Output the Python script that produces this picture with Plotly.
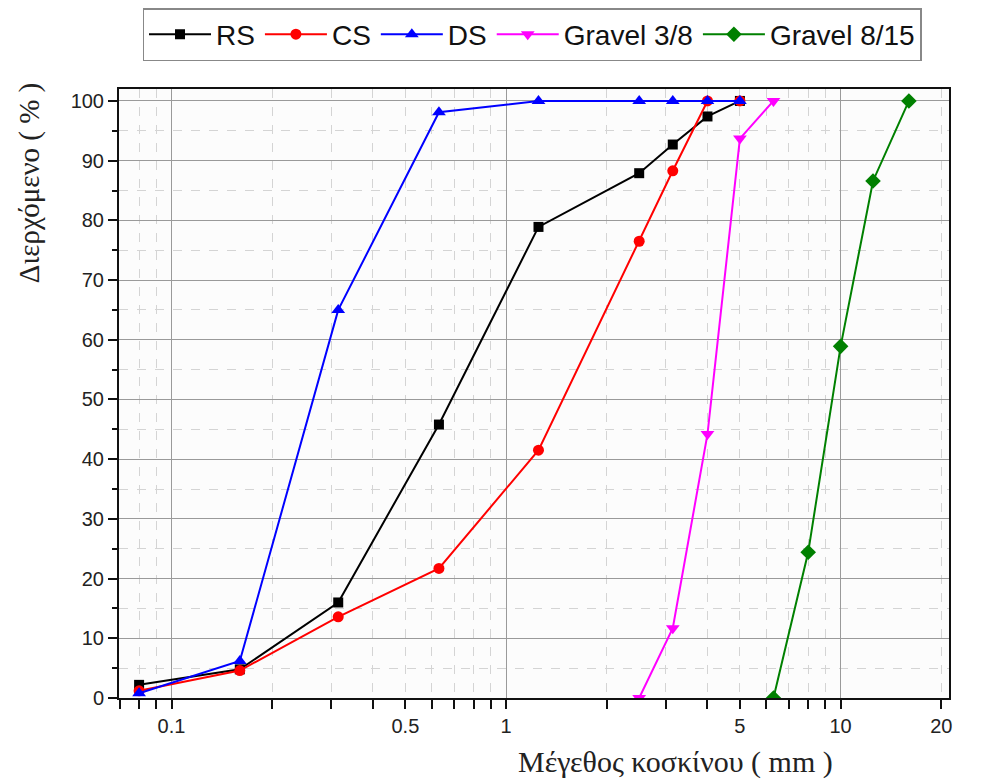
import plotly.graph_objects as go

# Sieve sizes (mm)
sizes_fine = [0.08, 0.16, 0.315, 0.63, 1.25, 2.5, 3.15, 4, 5]
rs = [2.2, 4.8, 16.0, 45.8, 78.9, 87.9, 92.7, 97.4, 100]
cs = [1.2, 4.6, 13.6, 21.7, 41.5, 76.5, 88.3, 100, 100]
ds = [0.8, 6.2, 65.0, 98.1, 100, 100, 100, 100, 100]

sizes_g38 = [2.5, 3.15, 4, 5, 6.3]
g38 = [0, 11.7, 44.2, 93.7, 100]

sizes_g815 = [6.3, 8, 10, 12.5, 16]
g815 = [0, 24.4, 58.9, 86.6, 100]

x_tickvals = [0.1, 0.5, 1, 5, 10, 20]
x_ticktext = ["0.1", "0.5", "1", "5", "10", "20"]
x_minor = [0.07, 0.08, 0.09, 0.2, 0.3, 0.4, 0.6, 0.7, 0.8, 0.9,
           2, 3, 4, 6, 7, 8, 9]
x_major_solid = [0.1, 1, 10]

fig = go.Figure()

def add(x, y, name, color, symbol, size=11):
    fig.add_trace(go.Scatter(
        x=x, y=y, name=name, mode="lines+markers",
        line=dict(color=color, width=2),
        marker=dict(symbol=symbol, size=size, color=color),
    ))

add(sizes_fine, rs, "RS", "#000000", "square", 10)
add(sizes_fine, cs, "CS", "#ff0000", "circle", 11)
add(sizes_fine, ds, "DS", "#0000ff", "triangle-up", 12)
add(sizes_g38, g38, "Gravel 3/8", "#ff00ff", "triangle-down", 12)
add(sizes_g815, g815, "Gravel 8/15", "#008000", "diamond", 12)

# invisible helper trace on overlay axis for solid decade gridlines
fig.add_trace(go.Scatter(x=sizes_fine, y=rs, xaxis="x2", mode="markers",
                         marker=dict(opacity=0), showlegend=False,
                         hoverinfo="skip"))

xrange = [-1.157, 1.324]

fig.update_layout(
    width=974, height=776,
    paper_bgcolor="white",
    plot_bgcolor="#fcfcfc",
    margin=dict(l=111, r=33, t=81, b=86, autoexpand=False),
    font=dict(family="Liberation Sans, Arial, sans-serif", size=20, color="#222"),
    showlegend=True,
    legend=dict(
        orientation="h", xref="container", x=0.538, xanchor="center",
        yref="container", y=1.0, yanchor="top",
        bgcolor="white", bordercolor="#888", borderwidth=1.5,
        font=dict(size=28, color="#111"),
        itemwidth=62, tracegroupgap=0,
    ),
    xaxis=dict(
        type="log", range=xrange,
        tickvals=x_tickvals, ticktext=x_ticktext,
        ticks="outside", ticklen=9, tickwidth=1.5, tickcolor="#111",
        showgrid=True, gridcolor="#d4d4d4", griddash="dash", gridwidth=1,
        showline=True, linecolor="#111", linewidth=2, mirror=True,
        zeroline=False,
        tickfont=dict(size=20),
        minor=dict(tickvals=x_minor, ticks="outside", ticklen=9, tickwidth=1.5,
                   tickcolor="#111", showgrid=True, gridcolor="#d4d4d4",
                   griddash="dash", gridwidth=1),
    ),
    xaxis2=dict(
        type="log", range=xrange, overlaying="x",
        tickvals=x_major_solid, showticklabels=False, ticks="",
        showgrid=True, gridcolor="#9a9a9a", gridwidth=1.2,
        showline=False, zeroline=False,
    ),
    yaxis=dict(
        range=[0, 102], tickvals=[0, 10, 20, 30, 40, 50, 60, 70, 80, 90, 100],
        ticks="outside", ticklen=9, tickwidth=1.5, tickcolor="#111",
        showgrid=True, gridcolor="#9a9a9a", gridwidth=1.2,
        showline=True, linecolor="#111", linewidth=2, mirror=True,
        zeroline=False, tickfont=dict(size=20),
        minor=dict(dtick=5, ticks="outside", ticklen=5, tickwidth=1.5,
                   tickcolor="#111", showgrid=True, gridcolor="#d4d4d4",
                   griddash="dash", gridwidth=1),
    ),
    annotations=[
        dict(text="Μέγεθος κοσκίνου ( mm )", xref="paper", yref="paper",
             x=0.670, y=-0.105, xanchor="center", yanchor="middle",
             showarrow=False,
             font=dict(family="Liberation Serif, Times New Roman, serif", size=30, color="#222")),
        dict(text="Διερχόμενο ( % )", xref="paper", yref="paper",
             x=-0.108, y=0.846, xanchor="center", yanchor="middle",
             showarrow=False, textangle=-90,
             font=dict(family="Liberation Serif, Times New Roman, serif", size=29, color="#222")),
    ],
)

fig.write_html("out.html")
